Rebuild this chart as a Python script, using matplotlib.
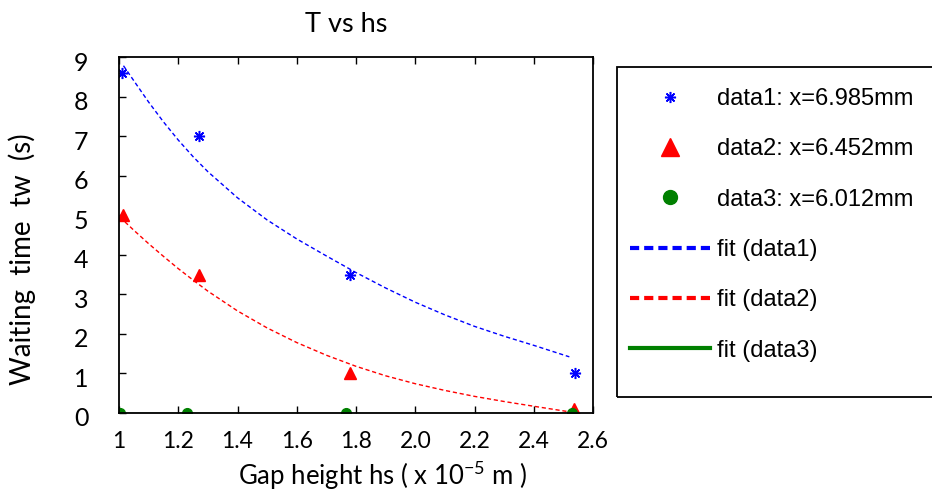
import matplotlib
matplotlib.use("Agg")
import matplotlib.pyplot as plt
from matplotlib.patches import Rectangle
from matplotlib.transforms import ScaledTranslation

plt.rcParams["font.family"] = ["Lato", "DejaVu Sans"]
plt.rcParams["mathtext.fontset"] = "custom"
plt.rcParams["mathtext.rm"] = "Lato"

# measured points (gap height in 1e-5 m, waiting time in s)
data1_x = [1.01, 1.27, 1.78, 2.54]
data1_y = [8.6, 7.0, 3.5, 1.0]
data2_x = [1.015, 1.27, 1.78, 2.535]
data2_y = [5.0, 3.5, 1.0, 0.1]
data3_x = [1.005, 1.23, 1.765, 2.53]
data3_y = [0.0, 0.0, 0.0, 0.0]

# fit curves
fit1_x = [1.015, 1.05, 1.10, 1.15, 1.20, 1.25, 1.30, 1.40, 1.50, 1.60,
          1.70, 1.80, 1.90, 2.00, 2.10, 2.20, 2.30, 2.40, 2.52]
fit1_y = [8.78, 8.40, 7.86, 7.36, 6.90, 6.48, 6.10, 5.44, 4.88, 4.40,
          3.97, 3.55, 3.16, 2.80, 2.48, 2.19, 1.94, 1.71, 1.42]
fit2_x = [1.003, 1.05, 1.10, 1.15, 1.20, 1.25, 1.30, 1.40, 1.50, 1.60,
          1.70, 1.80, 1.90, 2.00, 2.10, 2.20, 2.30, 2.40, 2.52]
fit2_y = [4.95, 4.62, 4.28, 3.96, 3.65, 3.36, 3.08, 2.58, 2.15, 1.78,
          1.46, 1.18, 0.94, 0.74, 0.57, 0.42, 0.29, 0.17, 0.03]
fit3_x = [1.0, 2.53]
fit3_y = [0.0, 0.0]

x_ticks = [1.0, 1.2, 1.4, 1.6, 1.8, 2.0, 2.2, 2.4, 2.6]
x_tick_labels = ["1", "1.2", "1.4", "1.6", "1.8", "2.0", "2.2", "2.4", "2.6"]
y_ticks = list(range(0, 10))

labels = ["data1: x=6.985mm", "data2: x=6.452mm", "data3: x=6.012mm",
          "fit (data1)", "fit (data2)", "fit (data3)"]

fig = plt.figure(figsize=(9.32, 4.94), dpi=100)
ax = fig.add_axes([0.1277, 0.164, 0.5086, 0.7206])

h1, = ax.plot(data1_x, data1_y, linestyle="none", marker=(8, 2, 0),
              color="blue", markersize=8, markeredgewidth=1.1)
h2, = ax.plot(data2_x, data2_y, linestyle="none", marker="^",
              color="red", markersize=8)
h3, = ax.plot(data3_x, data3_y, linestyle="none", marker="o",
              color="green", markersize=7)
f1, = ax.plot(fit1_x, fit1_y, color="blue", linestyle=(0, (3, 2)), linewidth=1)
f2, = ax.plot(fit2_x, fit2_y, color="red", linestyle=(0, (3, 2)), linewidth=1)
f3, = ax.plot(fit3_x, fit3_y, color="green", linestyle="-", linewidth=1)

ax.set_xlim(1.0, 2.6)
ax.set_ylim(0, 9)
ax.set_xticks(x_ticks)
ax.set_xticklabels(x_tick_labels)
ax.set_yticks(y_ticks)
ax.tick_params(direction="in", length=5, width=1, top=True, right=False)
ax.tick_params(axis="x", labelsize=16.5, pad=13)
ax.tick_params(axis="y", labelsize=18, pad=22)
# y labels sit a little below their ticks in the original
shift = ScaledTranslation(0, -4 / 100, fig.dpi_scale_trans)
for lbl in ax.get_yticklabels():
    lbl.set_transform(lbl.get_transform() + shift)
for s in ax.spines.values():
    s.set_linewidth(1.3)

ax.set_title("T vs hs", fontsize=19.5, pad=18, x=0.48)
ax.set_ylabel("Waiting  time  tw  (s)", fontsize=20)
ax.yaxis.set_label_coords(-0.175, 0.431)
ax.set_xlabel("Gap height hs ( x 10$^{-5}$ m )", fontsize=18.5)
ax.xaxis.set_label_coords(0.557, -0.129)

# legend frame runs past the right edge of the figure
fig.patches.append(Rectangle((617 / 932, 1 - 397 / 494), 0.4, 330 / 494,
                             transform=fig.transFigure, fill=False,
                             edgecolor="black", linewidth=1.3))
leg = fig.legend(
    [h1, h2, h3, f1, f2, f3], labels,
    loc="upper left",
    bbox_to_anchor=(630 / 932, 1 - 88 / 494),
    prop={"family": ["Liberation Sans", "DejaVu Sans"], "size": 17},
    frameon=False,
    handlelength=3.4, handletextpad=0.3, borderpad=0,
    labelspacing=1.2, borderaxespad=0,
)
for i, ln in enumerate(leg.get_lines()):
    if i >= 3:
        ln.set_linewidth(3)
        if i < 5:
            ln.set_linestyle((0, (2.2, 1.2)))
leg.legend_handles[1].set_markersize(13)
leg.legend_handles[2].set_markersize(10)

fig.savefig("out.png", dpi=100)
